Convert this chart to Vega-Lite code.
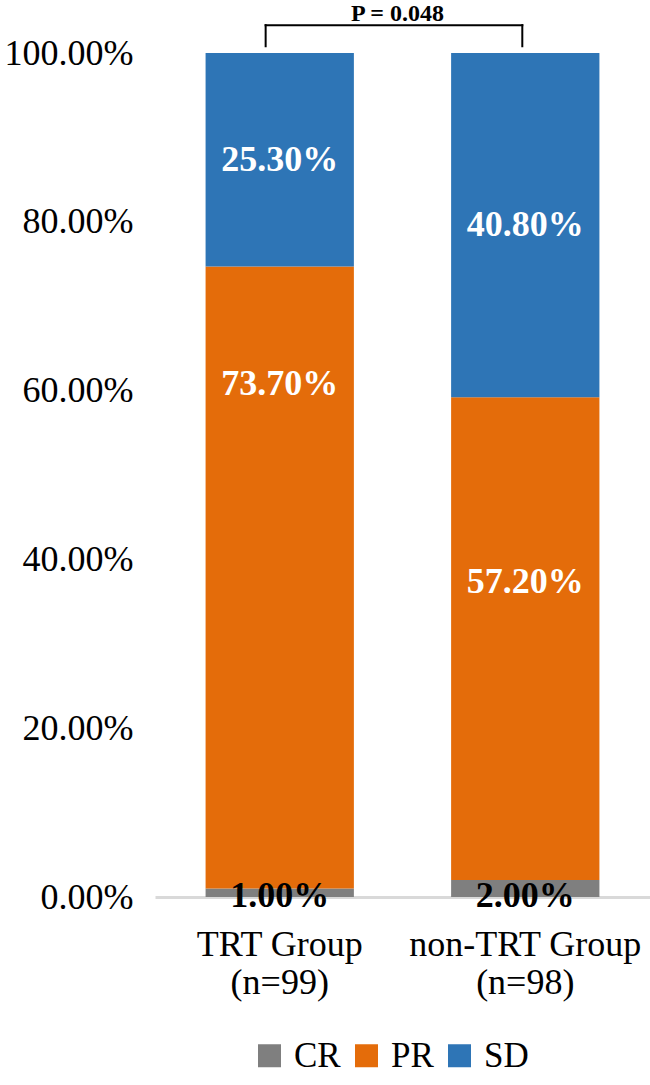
{
  "$schema": "https://vega.github.io/schema/vega-lite/v6.json",
  "autosize": {"type": "none"},
  "padding": {"left": 155, "top": 53, "right": 0, "bottom": 188},
  "width": 495,
  "height": 844,
  "background": "white",
  "title": {"text": "P = 0.048", "font": "Liberation Serif", "fontSize": 24, "fontWeight": "bold", "color": "black", "anchor": "middle", "offset": -2, "dx": -5},
  "config": {"view": {"stroke": null}, "font": "Liberation Serif"},
  "datasets": {
    "resp": [
      {"group": "TRT Group|(n=99)", "status": "CR", "pct": 0.01},
      {"group": "TRT Group|(n=99)", "status": "PR", "pct": 0.737},
      {"group": "TRT Group|(n=99)", "status": "SD", "pct": 0.253},
      {"group": "non-TRT Group|(n=98)", "status": "CR", "pct": 0.02},
      {"group": "non-TRT Group|(n=98)", "status": "PR", "pct": 0.572},
      {"group": "non-TRT Group|(n=98)", "status": "SD", "pct": 0.408}
    ]
  },
  "data": {"name": "resp"},
  "encoding": {
    "x": {
      "field": "group", "type": "nominal", "sort": null,
      "scale": {"domain": ["TRT Group|(n=99)", "non-TRT Group|(n=98)"], "paddingInner": 0.396, "paddingOuter": 0.206},
      "axis": {"title": null, "labelExpr": "split(datum.label, '|')", "labelFont": "Liberation Serif", "labelFontSize": 36, "labelColor": "black", "labelAngle": 0, "labelLimit": 0, "labelLineHeight": 38, "labelPadding": 30, "labelBaseline": "top", "ticks": false, "tickSize": 0, "domainColor": "#d9d9d9", "domainWidth": 3}
    }
  },
  "layer": [
    {
      "mark": {"type": "bar"},
      "encoding": {
        "y": {"field": "pct", "type": "quantitative", "stack": "zero", "scale": {"domain": [0, 1], "nice": false},
          "axis": {"title": null, "values": [0, 0.2, 0.4, 0.6, 0.8, 1], "format": ".2%", "labelFont": "Liberation Serif", "labelFontSize": 36, "labelColor": "black", "labelPadding": 22, "ticks": false, "tickSize": 0, "domain": false, "grid": false}},
        "color": {"field": "status", "type": "nominal",
          "scale": {"domain": ["CR", "PR", "SD"], "range": ["#7f7f7f", "#e46c0a", "#2e75b6"]},
          "legend": {"orient": "none", "legendX": 97, "legendY": 985, "direction": "horizontal", "title": null, "symbolType": "square", "symbolSize": 529, "symbolStrokeWidth": 0, "labelFont": "Liberation Serif", "labelFontSize": 35, "labelColor": "black", "labelOffset": 7, "columnPadding": 8}},
        "order": {"field": "status", "sort": "ascending"}
      }
    },
    {
      "transform": [
        {"stack": "pct", "groupby": ["group"], "sort": [{"field": "status", "order": "ascending"}], "as": ["v0", "v1"]},
        {"calculate": "(datum.v0 + datum.v1) / 2", "as": "mid"}
      ],
      "encoding": {
        "y": {"field": "mid", "type": "quantitative"},
        "text": {"field": "pct", "type": "quantitative", "format": ".2%"}
      },
      "layer": [
        {"transform": [{"filter": "datum.status == 'SD'"}], "mark": {"type": "text", "font": "Liberation Serif", "fontSize": 36, "fontWeight": "bold", "color": "white"}},
        {"transform": [{"filter": "datum.status == 'CR'"}], "mark": {"type": "text", "font": "Liberation Serif", "fontSize": 36, "fontWeight": "bold", "color": "black", "dy": -1},
         "encoding": {"y": {"field": "v0", "type": "quantitative"}}},
        {"transform": [{"filter": "datum.status == 'PR' && datum.group == 'TRT Group|(n=99)'"}], "mark": {"type": "text", "font": "Liberation Serif", "fontSize": 36, "fontWeight": "bold", "color": "white", "dy": -194}},
        {"transform": [{"filter": "datum.status == 'PR' && datum.group == 'non-TRT Group|(n=98)'"}], "mark": {"type": "text", "font": "Liberation Serif", "fontSize": 36, "fontWeight": "bold", "color": "white", "dy": -57}}
      ]
    },
    {
      "data": {"values": [{"note": "bracket"}]},
      "layer": [
        {"mark": {"type": "rule", "color": "black", "strokeWidth": 2, "strokeCap": "square"},
         "encoding": {"x": {"datum": "TRT Group|(n=99)", "type": "nominal", "bandPosition": 0.405}, "y": {"datum": 1.008, "type": "quantitative"}, "y2": {"datum": 1.033}}},
        {"mark": {"type": "rule", "color": "black", "strokeWidth": 2, "strokeCap": "square"},
         "encoding": {"x": {"datum": "non-TRT Group|(n=98)", "type": "nominal", "bandPosition": 0.48}, "y": {"datum": 1.008, "type": "quantitative"}, "y2": {"datum": 1.033}}},
        {"mark": {"type": "rule", "color": "black", "strokeWidth": 2, "strokeCap": "square"},
         "encoding": {"x": {"datum": "TRT Group|(n=99)", "type": "nominal", "bandPosition": 0.405}, "x2": {"datum": "non-TRT Group|(n=98)", "bandPosition": 0.48}, "y": {"datum": 1.033, "type": "quantitative"}}}
      ]
    }
  ]
}
